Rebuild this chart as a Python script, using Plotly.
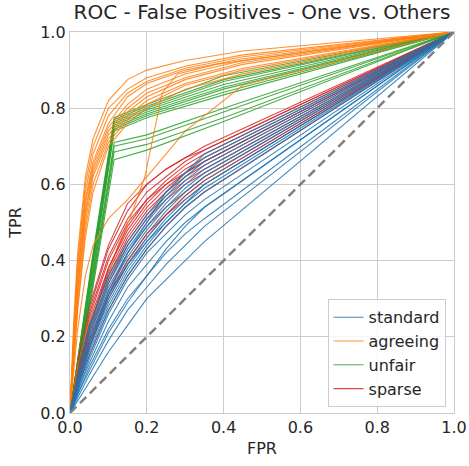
import plotly.graph_objects as go

# ---- ROC curves, one list of TPR values per run, on a shared FPR grid per group ----
STANDARD_FPR = [0, 0.025, 0.05, 0.1, 0.15, 0.2, 0.25, 0.3, 0.35, 1.0]
STANDARD_TPR = [
    [0, 0.04, 0.08, 0.16, 0.23, 0.30, 0.35, 0.40, 0.45, 1],
    [0, 0.05, 0.10, 0.19, 0.27, 0.33, 0.39, 0.44, 0.49, 1],
    [0, 0.06, 0.12, 0.22, 0.30, 0.36, 0.42, 0.47, 0.51, 1],
    [0, 0.07, 0.13, 0.24, 0.33, 0.39, 0.45, 0.50, 0.54, 1],
    [0, 0.07, 0.14, 0.26, 0.35, 0.42, 0.47, 0.52, 0.56, 1],
    [0, 0.08, 0.15, 0.27, 0.36, 0.43, 0.49, 0.54, 0.58, 1],
    [0, 0.08, 0.16, 0.28, 0.37, 0.44, 0.50, 0.55, 0.59, 1],
    [0, 0.09, 0.17, 0.29, 0.38, 0.45, 0.51, 0.56, 0.60, 1],
    [0, 0.09, 0.17, 0.30, 0.39, 0.46, 0.52, 0.57, 0.61, 1],
    [0, 0.10, 0.18, 0.31, 0.40, 0.47, 0.53, 0.58, 0.62, 1],
    [0, 0.10, 0.19, 0.32, 0.41, 0.48, 0.54, 0.59, 0.63, 1],
    [0, 0.11, 0.20, 0.33, 0.42, 0.49, 0.55, 0.60, 0.64, 1],
    [0, 0.11, 0.21, 0.34, 0.43, 0.50, 0.56, 0.61, 0.65, 1],
    [0, 0.12, 0.22, 0.35, 0.44, 0.51, 0.57, 0.62, 0.66, 1],
    [0, 0.09, 0.17, 0.31, 0.42, 0.50, 0.58, 0.63, 0.67, 1],
    [0, 0.10, 0.19, 0.31, 0.39, 0.45, 0.50, 0.55, 0.60, 1],
    [0, 0.06, 0.11, 0.21, 0.29, 0.36, 0.43, 0.49, 0.54, 1],
    [0, 0.12, 0.23, 0.36, 0.45, 0.52, 0.58, 0.63, 0.68, 1],
]

AGREEING_FPR = [0, 0.01, 0.02, 0.04, 0.06, 0.1, 0.15, 0.2, 0.3, 0.45, 1.0]
AGREEING_TPR = [
    [0, 0.25, 0.42, 0.62, 0.72, 0.82, 0.875, 0.90, 0.925, 0.95, 1],
    [0, 0.22, 0.40, 0.60, 0.70, 0.80, 0.850, 0.88, 0.910, 0.94, 1],
    [0, 0.22, 0.38, 0.58, 0.68, 0.78, 0.840, 0.87, 0.905, 0.935, 1],
    [0, 0.20, 0.36, 0.56, 0.66, 0.76, 0.830, 0.865, 0.900, 0.93, 1],
    [0, 0.20, 0.35, 0.55, 0.65, 0.75, 0.810, 0.85, 0.890, 0.925, 1],
    [0, 0.18, 0.33, 0.53, 0.64, 0.74, 0.800, 0.84, 0.880, 0.92, 1],
    [0, 0.18, 0.32, 0.52, 0.63, 0.73, 0.790, 0.83, 0.875, 0.915, 1],
    [0, 0.16, 0.30, 0.50, 0.62, 0.72, 0.780, 0.82, 0.865, 0.905, 1],
    [0, 0.15, 0.28, 0.48, 0.60, 0.71, 0.770, 0.81, 0.860, 0.90, 1],
    [0, 0.14, 0.27, 0.46, 0.58, 0.70, 0.760, 0.80, 0.850, 0.89, 1],
    [0, 0.12, 0.22, 0.36, 0.44, 0.51, 0.560, 0.62, 0.740, 0.86, 1],
]
# one agreeing run with a late, sharp rise
AGREEING_LATE_FPR = [0, 0.02, 0.05, 0.1, 0.125, 0.16, 0.195, 0.22, 0.24, 0.28, 0.38, 1.0]
AGREEING_LATE_TPR = [0, 0.12, 0.24, 0.36, 0.44, 0.52, 0.62, 0.74, 0.84, 0.89, 0.915, 1]

UNFAIR_FPR = [0, 0.06, 0.115, 0.2, 0.4, 1.0]
UNFAIR_TPR = [
    [0, 0.42, 0.775, 0.810, 0.885, 1],
    [0, 0.41, 0.770, 0.805, 0.875, 1],
    [0, 0.40, 0.765, 0.800, 0.870, 1],
    [0, 0.41, 0.760, 0.795, 0.862, 1],
    [0, 0.39, 0.755, 0.790, 0.855, 1],
    [0, 0.40, 0.750, 0.785, 0.850, 1],
    [0, 0.38, 0.745, 0.780, 0.842, 1],
    [0, 0.37, 0.740, 0.775, 0.835, 1],
    [0, 0.36, 0.710, 0.730, 0.800, 1],
    [0, 0.35, 0.700, 0.720, 0.790, 1],
    [0, 0.34, 0.685, 0.705, 0.775, 1],
    [0, 0.33, 0.665, 0.690, 0.765, 1],
]

SPARSE_FPR = [0, 0.025, 0.05, 0.1, 0.15, 0.2, 0.25, 0.3, 0.35, 1.0]
SPARSE_TPR = [
    [0, 0.08, 0.15, 0.27, 0.36, 0.43, 0.49, 0.54, 0.58, 1],
    [0, 0.09, 0.17, 0.30, 0.39, 0.46, 0.52, 0.56, 0.60, 1],
    [0, 0.10, 0.19, 0.32, 0.42, 0.49, 0.54, 0.58, 0.62, 1],
    [0, 0.11, 0.20, 0.34, 0.44, 0.51, 0.56, 0.60, 0.63, 1],
    [0, 0.12, 0.21, 0.35, 0.45, 0.52, 0.57, 0.61, 0.64, 1],
    [0, 0.12, 0.22, 0.37, 0.47, 0.54, 0.59, 0.63, 0.66, 1],
    [0, 0.13, 0.24, 0.38, 0.48, 0.55, 0.60, 0.64, 0.67, 1],
    [0, 0.14, 0.25, 0.40, 0.50, 0.56, 0.61, 0.65, 0.68, 1],
    [0, 0.15, 0.26, 0.41, 0.51, 0.58, 0.62, 0.66, 0.69, 1],
    [0, 0.15, 0.27, 0.43, 0.53, 0.60, 0.64, 0.67, 0.70, 1],
    [0, 0.16, 0.28, 0.44, 0.55, 0.60, 0.64, 0.67, 0.69, 1],
    [0, 0.13, 0.23, 0.36, 0.46, 0.53, 0.58, 0.62, 0.65, 1],
    [0, 0.11, 0.22, 0.38, 0.49, 0.56, 0.60, 0.63, 0.66, 1],
    [0, 0.10, 0.18, 0.31, 0.40, 0.47, 0.52, 0.57, 0.61, 1],
]

CHANCE = [0.0, 1.0]

COLORS = {
    "standard": "#1f77b4",
    "agreeing": "#ff7f0e",
    "unfair": "#2ca02c",
    "sparse": "#d62728",
}

groups = {
    "standard": [(STANDARD_FPR, t) for t in STANDARD_TPR],
    "agreeing": [(AGREEING_FPR, t) for t in AGREEING_TPR]
    + [(AGREEING_LATE_FPR, AGREEING_LATE_TPR)],
    "unfair": [(UNFAIR_FPR, t) for t in UNFAIR_TPR],
    "sparse": [(SPARSE_FPR, t) for t in SPARSE_TPR],
}

fig = go.Figure()

# interleave the runs so no single model sits entirely on top
n_max = max(len(v) for v in groups.values())
for i in range(n_max):
    for name, curves in groups.items():
        if i >= len(curves):
            continue
        fpr, tpr = curves[i]
        fig.add_trace(go.Scatter(
            x=fpr, y=tpr, mode="lines", name=name,
            legendgroup=name, showlegend=(i == 0),
            line=dict(color=COLORS[name], width=1.1),
            opacity=0.85,
        ))

# chance diagonal
fig.add_trace(go.Scatter(
    x=CHANCE, y=CHANCE, mode="lines", showlegend=False,
    line=dict(color="#808080", width=2.5, dash="9px,5px"),
))

FONT = "DejaVu Sans"
INK = "#262626"

axis_common = dict(
    range=[0, 1], dtick=0.2, tickformat=".1f",
    showgrid=True, gridcolor="#cccccc", gridwidth=1,
    showline=True, linecolor="#cccccc", linewidth=1.3, mirror=True,
    zeroline=False, ticks="", automargin=False,
    tickfont=dict(family=FONT, size=16, color=INK),
    title_font=dict(family=FONT, size=16, color=INK),
)

fig.update_layout(
    width=469, height=466,
    margin=dict(l=70, r=15, t=32, b=53),
    paper_bgcolor="white", plot_bgcolor="white",
    title=dict(
        text="ROC - False Positives - One vs. Others",
        x=(70 + 454) / 2 / 469, xanchor="center", y=1 - 12 / 466, yanchor="middle",
        font=dict(family=FONT, size=20, color=INK),
    ),
    xaxis=dict(axis_common, title=dict(text="FPR", standoff=6)),
    yaxis=dict(axis_common, title=dict(text="TPR", standoff=14)),
    legend=dict(
        x=0.978, y=0.015, xanchor="right", yanchor="bottom",
        bgcolor="rgba(255,255,255,0.8)", bordercolor="#cccccc", borderwidth=1,
        font=dict(family=FONT, size=16, color=INK),
        tracegroupgap=0, itemwidth=30,
    ),
    showlegend=True,
)

fig.write_html("out.html")
